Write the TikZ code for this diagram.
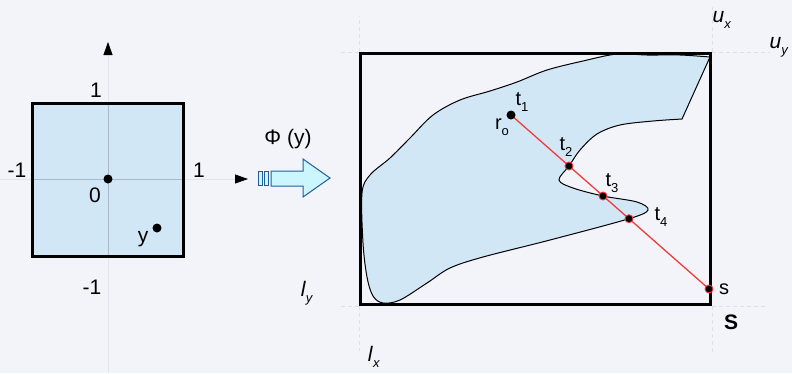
\documentclass[tikz,border=0pt]{standalone}
\usepackage{fontspec}
\setmainfont{Liberation Sans}
\usetikzlibrary{arrows.meta}
\definecolor{bgcol}{HTML}{F2F4F9}
\definecolor{regfill}{HTML}{D1E7F6}
\definecolor{raycol}{HTML}{F03C3C}
\definecolor{arrfill}{HTML}{CCF6FF}
\definecolor{arrline}{HTML}{1F5E9E}
\definecolor{axcol}{HTML}{E1E4EA}
\definecolor{axin}{HTML}{A9BAC6}
\definecolor{guide}{HTML}{DDE0E6}
\newcommand{\lbsub}[2]{#1\raisebox{-0.55ex}{\fontsize{13}{13}\selectfont #2}}

\begin{document}
\begin{tikzpicture}[x=1pt,y=-1pt,
  lab/.style={inner sep=0pt,font=\fontsize{21}{24}\selectfont},
  tlab/.style={inner sep=0pt,font=\fontsize{20}{22}\selectfont},
  frame/.style={draw=black,line width=3.2pt},
  dot/.style={circle,fill=black,inner sep=0pt,minimum size=9pt},
  hit/.style={dot,draw=raycol,line width=0.9pt,minimum size=8pt},
  guideln/.style={draw=guide,dash pattern=on 4pt off 3pt,line width=0.6pt}]
  \fill[bgcol] (0,0) rectangle (792,373);
  \useasboundingbox (0,0) rectangle (792,373);

  % unit square with its axes
  \node[fill=regfill,inner sep=0pt,minimum width=151pt,minimum height=153pt] (sq) at (108,180) {};
  \coordinate (ytop) at (108,42);
  \coordinate (ybot) at (108,373);
  \coordinate (xl) at (0,179);
  \coordinate (xr) at (248,179);
  \draw[axcol,line width=0.8pt,-{Triangle[color=black,length=13pt,width=9pt]}] (ybot) -- (ytop);
  \draw[axcol,line width=0.8pt,-{Triangle[color=black,length=13pt,width=9pt]}] (xl) -- (xr);
  \begin{scope}
    \clip (sq.north west) rectangle (sq.south east);
    \draw[axin,line width=0.8pt] (ybot) -- (ytop) (xl) -- (xr);
  \end{scope}
  \draw[frame] (sq.north west) rectangle (sq.south east);
  \node[dot] (orig) at (108,179) {};
  \node[dot] (ypt) at (157,228) {};
  \node[lab] (ytick) at (96,90) {1};
  \node[lab] (ntick) at (92,287) {-1};
  \node[lab] (xtick) at (199,170) {1};
  \node[lab] (mtick) at (17,170) {-1};
  \node[lab] (zero) at (95,195) {0};
  \node[lab,anchor=base] (ylab) at (143,242) {y};

  % mapping arrow
  \node[lab] (phi) at (288,139) {Φ (y)};
  \draw[arrline,fill=arrfill,line width=1pt] (258,171) rectangle (262,185) (264,171) rectangle (268,185);
  \draw[arrline,fill=arrfill,line width=1pt] (271,171) -- (303,171) -- (303,159) -- (330,178)
    -- (303,197) -- (303,186) -- (271,186) -- cycle;

  % region in the box
  \coordinate (pro) at (511,115);
  \coordinate (pt2) at (569,166);
  \coordinate (pt3) at (603,196);
  \coordinate (pt4) at (629,218.7);
  \coordinate (ps) at (709,289);
  \draw[black,line width=1pt,fill=regfill] plot[smooth,tension=0.55] coordinates {(710,57) (680,55) (647,55)
    (617,54) (583,61) (547,70) (517,82) (490,91) (460,100) (433,115) (410,138) (390,158) (370,175) (362,193)
    (363,243) (367,277) (373,296) (383,303) (400,300) (427,283) (450,268) (483,257) (550,240) (629,218.7)
    (648,210) (637,202) (603,196) (573,188) (559,180) (569,166) (580,150) (597,134) (620,125) (653,121)
    (682,119)} -- cycle;
  \node[frame,inner sep=0pt,minimum width=350pt,minimum height=251pt] (box) at (535.5,179) {};
  \draw[guideln] (box.north west) -- ++(0,-36) (box.north west) -- ++(-18,0);
  \draw[guideln] (box.north east) -- ++(0,-45) (box.north east) -- ++(58,0);
  \draw[guideln] (box.south east) -- ++(0,48) (box.south east) -- ++(55,0);
  \draw[guideln] (box.south west) -- ++(0,45) (box.south west) -- ++(-18,0);
  \draw[raycol,line width=1.3pt] (pro) -- (ps);
  \node[dot] (ro) at (pro) {};
  \node[hit] (t2) at (pt2) {};
  \node[hit] (t3) at (pt3) {};
  \node[hit] (t4) at (pt4) {};
  \node[hit] (s) at (ps) {};

  \node[tlab] (t1lab) at (522,102) {\lbsub{t}{1}};
  \node[tlab] (rolab) at (502,127) {\lbsub{r}{o}};
  \node[tlab] (t2lab) at (566,147) {\lbsub{t}{2}};
  \node[tlab] (t3lab) at (612,183) {\lbsub{t}{3}};
  \node[tlab] (t4lab) at (661,217) {\lbsub{t}{4}};
  \node[tlab,anchor=base] (slab) at (724,294) {s};
  \node[lab] (Slab) at (731,322) {\textbf{S}};
  \node[lab] (ux) at (722,20) {\lbsub{\textit{u}}{\textit{x}}};
  \node[lab] (uy) at (779,47) {\lbsub{\textit{u}}{\textit{y}}};
  \node[lab] (ly) at (307,293) {\lbsub{\textit{l}}{\textit{y}}};
  \node[lab] (lx) at (374,357) {\lbsub{\textit{l}}{\textit{x}}};
\end{tikzpicture}
\end{document}
